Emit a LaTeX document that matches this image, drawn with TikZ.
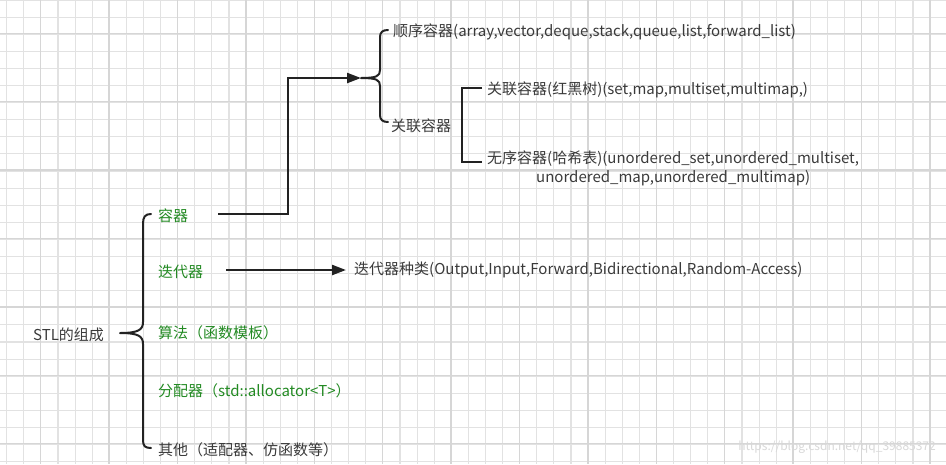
\documentclass[tikz,border=0pt]{standalone}
\usepackage{fontspec}
\setmainfont{Noto Sans CJK SC}
\usetikzlibrary{arrows.meta}
\definecolor{gridminor}{HTML}{E2E2E2}
\definecolor{gridmajor}{HTML}{D6D6D6}
\definecolor{txtdark}{HTML}{3A3A3A}
\definecolor{txtgreen}{HTML}{238A23}
\definecolor{linedark}{HTML}{222222}
\definecolor{wmark}{HTML}{D8D8D8}
\tikzset{
  lbl/.style={anchor=west, inner sep=0pt, text=txtdark, font=\fontsize{15}{18.5}\selectfont},
  glbl/.style={lbl, text=txtgreen},
  conn/.style={draw=linedark, line width=2.3pt, line join=miter},
  brace/.style={draw=linedark, line width=2pt, line cap=round},
  tip/.style={-{Triangle[length=14pt,width=10pt]}}
}
\begin{document}
\begin{tikzpicture}[x=1pt,y=-1pt]
\useasboundingbox (0,0) rectangle (946,464);
\fill[white] (0,0) rectangle (946,464);
% grid
\foreach \i in {0,...,55} {
  \draw[gridminor, line width=1.1pt] ({6.7+17.1*\i},0) -- ({6.7+17.1*\i},464);
}
\foreach \j in {0,...,27} {
  \draw[gridminor, line width=1.1pt] (0,{17.1*\j}) -- (946,{17.1*\j});
}
\foreach \i in {0,...,13} {
  \draw[gridmajor, line width=1.3pt] ({40.7+68.4*\i},0) -- ({40.7+68.4*\i},464);
}
\foreach \j in {0,...,6} {
  \draw[gridmajor, line width=1.3pt] (0,{33.3+68.4*\j}) -- (946,{33.3+68.4*\j});
}

% left side
\node[lbl] (stl) at (33,335) {STL的组成};
\node[glbl] (c1) at (158,216) {容器};
\node[glbl] (c2) at (158,272) {迭代器};
\node[glbl] (c3) at (158,333) {算法（函数模板）};
\node[glbl] (c4) at (158,391) {分配器（std::allocator<T>）};
\node[lbl] (c5) at (158,450) {其他（适配器、仿函数等）};

% big brace
\coordinate (bigtip) at (120,333);
\draw[brace] (151,214) .. controls (145,214) and (143,217) .. (143,224)
  -- (143,322) .. controls (143,330) and (138,333) .. (bigtip)
  (bigtip) .. controls (138,333) and (143,336) .. (143,344)
  -- (143,440) .. controls (143,446) and (145,448) .. (151,448);

% container branch
\coordinate (smalltip) at (361,78);
\coordinate (c1out) at (218,214);
\draw[conn, tip] (c1out) -- (288,214) -- (288,78) -- (smalltip);
\draw[brace] (388,30) .. controls (383,30) and (380,32) .. (380,37)
  -- (380,70) .. controls (380,76) and (377,78) .. (smalltip)
  (smalltip) .. controls (377,78) and (380,80) .. (380,86)
  -- (380,115) .. controls (380,120) and (383,122) .. (388,122);

\node[lbl] (s1) at (393,32) {顺序容器(array,vector,deque,stack,queue,list,forward\_list)};
\node[lbl] (s2) at (391,126) {关联容器};

\draw[conn, line width=2pt] (482,88) -- (462,88) -- (462,162) -- (482,162);
\node[lbl] (a1) at (487,90) {关联容器(红黑树)(set,map,multiset,multimap,)};
\node[lbl, align=center, anchor=north west] (a2) at (487,151)
  {无序容器(哈希表)(unordered\_set,unordered\_multiset,\\unordered\_map,unordered\_multimap)};

% iterator branch
\coordinate (c2out) at (226,270);
\node[lbl] (it) at (354,270) {迭代器种类(Output,Input,Forward,Bidirectional,Random-Access)};
\draw[conn, tip, shorten >=8pt] (c2out) -- (it.west);

% watermark
\node[anchor=east, inner sep=0pt, text=wmark, font=\fontsize{12}{14}\selectfont] (wm) at (936,447) {https://blog.csdn.net/qq\_39885372};
\end{tikzpicture}
\end{document}
